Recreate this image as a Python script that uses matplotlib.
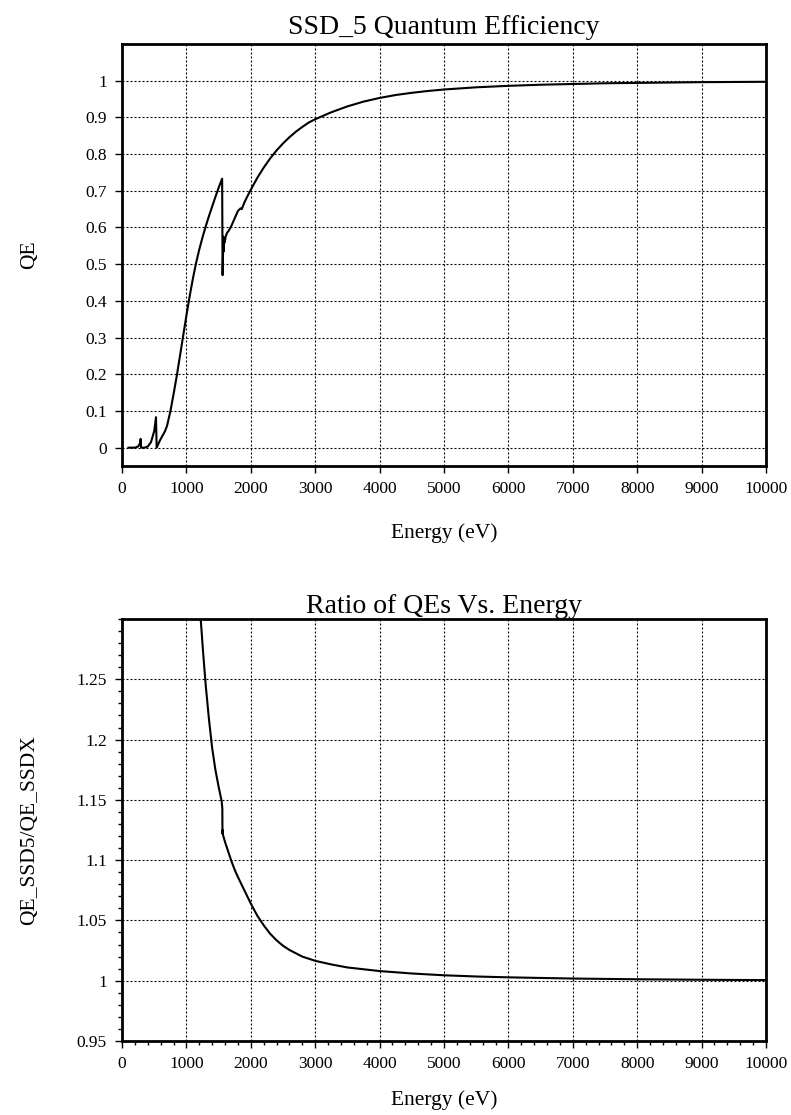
import matplotlib
matplotlib.use("Agg")
import matplotlib.pyplot as plt
from matplotlib.ticker import MultipleLocator, FuncFormatter

# ---- data ----
qe_energy = [100, 200, 250, 280, 290, 296, 350, 400, 450, 500, 528, 538,
             590, 668, 700, 750, 800, 850, 900, 950, 1000, 1050, 1100, 1150,
             1200, 1250, 1300, 1350, 1400, 1450, 1500, 1555, 1562, 1568, 1574,
             1580, 1588, 1596, 1610, 1630, 1660, 1700, 1750, 1800, 1840, 1860,
             1900, 1950, 2000, 2100, 2200, 2300, 2400, 2500, 2600, 2700, 2800,
             2900, 3000, 3250, 3500, 3750, 4000, 4250, 4500, 4750, 5000, 5500,
             6000, 6500, 7000, 7500, 8000, 8500, 9000, 9500, 10000]
qe_values = [0.0, 0.0, 0.003, 0.012, 0.024, 0.0, 0.0, 0.003, 0.015, 0.045, 0.083, 0.0,
             0.02, 0.045, 0.06, 0.098, 0.145, 0.195, 0.25, 0.305, 0.36, 0.412, 0.46, 0.503,
             0.54, 0.573, 0.603, 0.631, 0.657, 0.683, 0.708, 0.733, 0.47, 0.52, 0.575,
             0.535, 0.57, 0.56, 0.575, 0.585, 0.592, 0.605, 0.625, 0.645, 0.652, 0.65,
             0.668, 0.686, 0.703, 0.735, 0.763, 0.788, 0.810, 0.829, 0.846, 0.861, 0.874,
             0.886, 0.895, 0.914, 0.930, 0.943, 0.953, 0.961, 0.967, 0.972, 0.976, 0.982,
             0.986, 0.989, 0.991, 0.993, 0.994, 0.995, 0.996, 0.9965, 0.997]

ratio_energy = [1222, 1260, 1300, 1350, 1400, 1450, 1500, 1547, 1558, 1560, 1563, 1568,
                1600, 1650, 1700, 1750, 1800, 1900, 2000, 2100, 2200, 2300, 2400, 2500,
                2600, 2800, 3000, 3250, 3500, 3750, 4000, 4500, 5000, 5500, 6000, 7000,
                8000, 9000, 10000]
ratio_values = [1.300, 1.272, 1.245, 1.217, 1.193, 1.175, 1.161, 1.149, 1.143, 1.122, 1.125, 1.121,
                1.115, 1.107, 1.099, 1.092, 1.086, 1.075, 1.064, 1.054, 1.046, 1.039, 1.0335, 1.029,
                1.0255, 1.020, 1.0165, 1.0135, 1.011, 1.0095, 1.008, 1.006, 1.0045, 1.0035, 1.0028, 1.0018,
                1.0012, 1.0008, 1.0005]

x_ticks = [0, 1000, 2000, 3000, 4000, 5000, 6000, 7000, 8000, 9000, 10000]
qe_ticks = [0, 0.1, 0.2, 0.3, 0.4, 0.5, 0.6, 0.7, 0.8, 0.9, 1]
ratio_ticks = [0.95, 1, 1.05, 1.1, 1.15, 1.2, 1.25]

plt.rcParams['font.family'] = ['Liberation Serif', 'DejaVu Serif']

fig = plt.figure(figsize=(7.91, 11.15), dpi=100)
W, H = 791.0, 1115.0


def make_axes(top_px, bottom_px):
    return fig.add_axes([122 / W, 1 - bottom_px / H, 644 / W, (bottom_px - top_px) / H])


fmt = FuncFormatter(lambda v, p: '%g' % round(v, 4))


def style(ax, minor):
    for s in ax.spines.values():
        s.set_linewidth(2.0)
    ax.grid(True, which='major', color='black', linewidth=0.8, linestyle=(0, (1.8, 1.8)))
    ax.tick_params(which='major', direction='out', length=5, width=1.0, labelsize=12.5,
                   pad=6, top=False, right=False)
    if minor:
        ax.tick_params(which='minor', direction='out', length=3, width=1.0,
                       top=False, right=False)
    ax.set_xticks(x_ticks)
    ax.xaxis.set_major_formatter(fmt)
    ax.yaxis.set_major_formatter(fmt)


# ---- top: QE ----
ax1 = make_axes(44, 466)
ax1.plot(qe_energy, qe_values, color='black', linewidth=1.5)
ax1.set_xlim(0, 10000)
ax1.set_ylim(-0.05, 1.1)
ax1.set_yticks(qe_ticks)
style(ax1, False)
ax1.set_title('SSD_5 Quantum Efficiency', fontsize=20, pad=7)
ax1.set_xlabel('Energy (eV)', fontsize=15.5, va='center')
ax1.set_ylabel('QE', fontsize=15.5, va='center')
ax1.xaxis.set_label_coords(0.5, (466 - 533) / 422)
ax1.yaxis.set_label_coords((30 - 122) / 644, 0.5)

# ---- bottom: ratio ----
ax2 = make_axes(619, 1041)
ax2.plot(ratio_energy, ratio_values, color='black', linewidth=1.5)
ax2.set_xlim(0, 10000)
ax2.set_ylim(0.95, 1.3)
ax2.set_yticks(ratio_ticks)
ax2.xaxis.set_minor_locator(MultipleLocator(200))
ax2.yaxis.set_minor_locator(MultipleLocator(0.01))
style(ax2, True)
ax2.set_title('Ratio of QEs Vs. Energy', fontsize=20, pad=4)
ax2.set_xlabel('Energy (eV)', fontsize=15.5, va='center')
ax2.set_ylabel('QE_SSD5/QE_SSDX', fontsize=15.5, va='center')
ax2.xaxis.set_label_coords(0.5, (1041 - 1100) / 422)
ax2.yaxis.set_label_coords((30 - 122) / 644, 0.5)

fig.savefig('out.png', dpi=100)
